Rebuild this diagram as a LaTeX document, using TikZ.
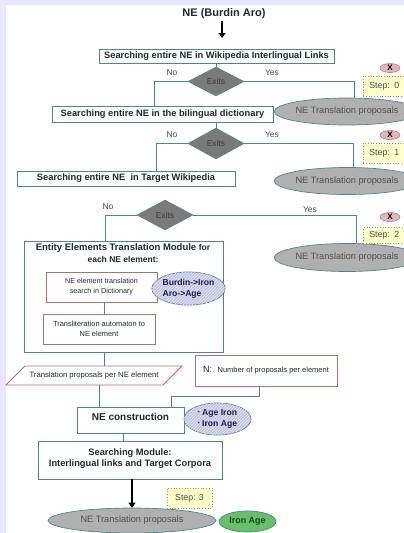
\documentclass[tikz,border=0pt]{standalone}
\usepackage{fontspec}
\setmainfont{Liberation Sans}
\usetikzlibrary{shapes.geometric,arrows.meta,patterns}
\definecolor{edge}{HTML}{4A8A86}
\definecolor{redge}{HTML}{B07070}
\definecolor{txt}{HTML}{1C2C28}
\definecolor{lav}{HTML}{E8E8FC}
\definecolor{dgray}{HTML}{7A7A7A}
\definecolor{dtext}{HTML}{3C3C3C}
\definecolor{egray}{HTML}{B0B0B0}
\definecolor{etext}{HTML}{505050}
\definecolor{pinkx}{HTML}{E2B4BC}
\definecolor{stepfill}{HTML}{FFFFCC}
\definecolor{stepedge}{HTML}{8FA060}
\definecolor{hatchfill}{HTML}{C4C4E4}
\definecolor{navy}{HTML}{1E1E50}
\definecolor{greenf}{HTML}{68BE6A}
\definecolor{greent}{HTML}{164A16}
\definecolor{lbltext}{HTML}{4A4A4A}
\begin{document}
\begin{tikzpicture}[x=1pt,y=-1pt,
  box/.style={draw=edge, line width=0.8pt, fill=white, inner sep=0pt, text=txt,
    font=\bfseries\fontsize{9.3}{11}\selectfont},
  sbox/.style={draw=redge, line width=0.8pt, fill=white, inner sep=0pt, text=txt, align=center},
  dia/.style={diamond, aspect=2, draw=edge, line width=0.6pt, fill=dgray, text=dtext,
    inner sep=0pt, font=\fontsize{8.5}{10}\selectfont},
  lbl/.style={text=lbltext, inner sep=0pt, font=\fontsize{8.5}{10}\selectfont},
  gel/.style={ellipse, draw=edge, line width=0.7pt, fill=egray, text=etext, inner sep=0pt,
    font=\fontsize{9.2}{11}\selectfont},
  xel/.style={ellipse, draw=redge, line width=0.5pt, fill=pinkx, text=black, inner sep=0pt,
    minimum width=20, minimum height=9, font=\bfseries\fontsize{8}{9}\selectfont},
  stepbox/.style={draw=stepedge, dotted, line width=0.7pt, fill=stepfill, text=lbltext,
    inner sep=0pt, minimum height=20, font=\fontsize{8.8}{10}\selectfont},
  hel/.style={ellipse, draw=edge, line width=0.7pt, fill=hatchfill,
    postaction={pattern=north east lines, pattern color=white!60!hatchfill},
    inner sep=0pt, align=left, text=navy, font=\bfseries\fontsize{8.6}{11}\selectfont},
  conn/.style={draw=edge, line width=0.8pt},
  bigarrow/.style={line width=2.4pt, -{Triangle[length=5pt,width=7pt]}}
]
\fill[lav] (0,0) rectangle (404,533);
\fill[white] (6,5) rectangle (404,533);
\useasboundingbox (0,0) rectangle (404,533);

% title
\node[text=txt, inner sep=0pt, font=\bfseries\fontsize{11}{13}\selectfont] (title) at (224,14) {NE (Burdin Aro)};
\coordinate (tarr) at (222,38);
\draw[bigarrow] (title.south -| tarr) ++(0,2) -- (tarr);

% step 0
\node[box, minimum width=235, minimum height=14] (b1) at (216.5,56) {Searching entire NE in Wikipedia Interlingual Links};
\node[dia, minimum width=56, minimum height=29] (d1) at (216,81.5) {Exits};
\node[lbl] (no1) at (172,73) {No};
\node[lbl] (yes1) at (272,73) {Yes};
\node[box, minimum width=221, minimum height=16] (b2) at (162.5,114) {Searching entire NE in the bilingual dictionary};
\node[gel, minimum width=110, minimum height=27] (e1) at (347,111.5) {NE Translation proposals};
\node[xel] (x1) at (390,68) {X};
\node[stepbox, anchor=west, minimum width=52, text width=40, inner xsep=6pt, align=left] (s0) at (363,86) {Step: 0};
\coordinate (n1) at (154,81.5);
\coordinate (y1) at (354,81.5);
\draw[conn] (d1.north |- b1.south) -- (d1.north);
\draw[conn] (d1.west) -- (n1) -- (n1 |- b2.north);
\draw[conn] (d1.east) -- (y1) -- (y1 |- e1.north);

% step 1
\node[dia, minimum width=56, minimum height=31] (d2) at (216,143.5) {Exits};
\node[lbl] (no2) at (172,135) {No};
\node[lbl] (yes2) at (272,135) {Yes};
\node[box, minimum width=218, minimum height=15] (b3) at (126,178.5) {Searching entire NE\ \ in Target Wikipedia};
\node[gel, minimum width=110, minimum height=27] (e2) at (347,181) {NE Translation proposals};
\node[xel] (x2) at (390,135) {X};
\node[stepbox, anchor=west, minimum width=52, text width=40, inner xsep=6pt, align=left] (s1) at (363,153) {Step: 1};
\coordinate (n2) at (156,143.5);
\coordinate (y2) at (353,143.5);
\draw[conn] (d2.north |- b2.south) -- (d2.north);
\draw[conn] (d2.west) -- (n2) -- (n2 |- b3.north);
\draw[conn] (d2.east) -- (y2) -- (y2 |- e2.north);

% step 2
\node[dia, minimum width=56, minimum height=30] (d3) at (165,215) {Exits};
\node[lbl] (no3) at (108,207) {No};
\node[lbl] (yes3) at (310,210) {Yes};
\node[box, minimum width=199, minimum height=111] (b4) at (123.5,296.5) {};
\node[text=txt, inner sep=0pt, font=\bfseries\fontsize{9.5}{11}\selectfont] (t4a) at (123,248)
  {Entity Elements Translation Module {\fontsize{8.5}{10}\selectfont for}};
\node[text=txt, inner sep=0pt, font=\bfseries\fontsize{8.5}{10}\selectfont] (t4b) at (123,259) {each NE element:};
\node[gel, minimum width=110, minimum height=28] (e3) at (347,257.5) {NE Translation proposals};
\node[xel] (x3) at (390,217) {X};
\node[stepbox, anchor=west, minimum width=52, text width=40, inner xsep=6pt, align=left, minimum height=16] (s2) at (363,235.5) {Step: 2};
\coordinate (n3) at (105,215);
\coordinate (y3) at (356,215);
\draw[conn] (d3.west) -- (n3) -- (n3 |- b4.north);
\draw[conn] (d3.east) -- (y3) -- (y3 |- e3.north);

% module content
\node[sbox, minimum width=111, minimum height=30, font=\fontsize{7.2}{10}\selectfont] (ba) at (101.5,287) {NE element translation\\search in Dictionary};
\node[hel, minimum width=67, minimum height=33] (h1) at (188.5,288.5) {Burdin->Iron\\Aro->Age};
\node[sbox, minimum width=112, minimum height=30, font=\fontsize{7.4}{10}\selectfont] (bb) at (99,329) {Transliteration automaton to\\NE element};
\coordinate (m1) at (104,0);
\draw[conn] (m1 |- ba.south) -- (m1 |- bb.north);

% parallelogram and N box
\draw[draw=redge, line width=0.8pt, fill=white] (25,366) -- (182,366) -- (163,385) -- (6,385) -- cycle;
\node[inner sep=0pt, minimum width=157, minimum height=19, text=txt, font=\fontsize{7.7}{9}\selectfont] (par) at (94,375.5) {Translation proposals per NE element};
\node[sbox, minimum width=142, minimum height=31] (nb) at (266,370.5)
  {{\fontsize{9}{10}\selectfont N:}\ \ {\fontsize{7.5}{9}\selectfont Number of proposals per element}};
\draw[conn] (m1 |- b4.south) -- (m1 |- par.north);

% construction
\node[box, minimum width=107, minimum height=26, text depth=6pt, font=\bfseries\fontsize{10}{12}\selectfont] (nec) at (130.5,420) {NE construction};
\node[hel, minimum width=67, minimum height=32] (h2) at (217.5,419)
  {\raisebox{1.5pt}{\fontsize{5}{5}\selectfont*} Age Iron\\\raisebox{1.5pt}{\fontsize{5}{5}\selectfont*} Iron Age};
\coordinate (m2) at (99,0);
\coordinate (m3) at (259,396);
\coordinate (m4) at (171,396);
\draw[conn] (m2 |- par.south) -- (m2 |- nec.north);
\draw[conn] (m3 |- nb.south) -- (m3) -- (m4) -- (m4 |- nec.north);

% searching module
\node[box, minimum width=184, minimum height=38, align=center, text depth=4pt] (sm) at (130,460)
  {Searching Module:\\Interlingual links and Target Corpora};
\coordinate (m5) at (123,0);
\draw[conn] (m5 |- nec.south) -- (m5 |- sm.north);

% final
\node[gel, minimum width=168, minimum height=25] (e4) at (132,520.5) {NE Translation proposals};
\node[stepbox, minimum width=45, minimum height=20] (s3) at (189.5,498) {Step: 3};
\node[ellipse, draw=edge, line width=0.7pt, fill=greenf, text=greent, inner sep=0pt,
  minimum width=57, minimum height=21, font=\bfseries\fontsize{8.9}{10}\selectfont] (ga) at (247.5,521.5) {Iron Age};
\draw[bigarrow] (e4.north |- sm.south) -- (e4.north);
\end{tikzpicture}
\end{document}
